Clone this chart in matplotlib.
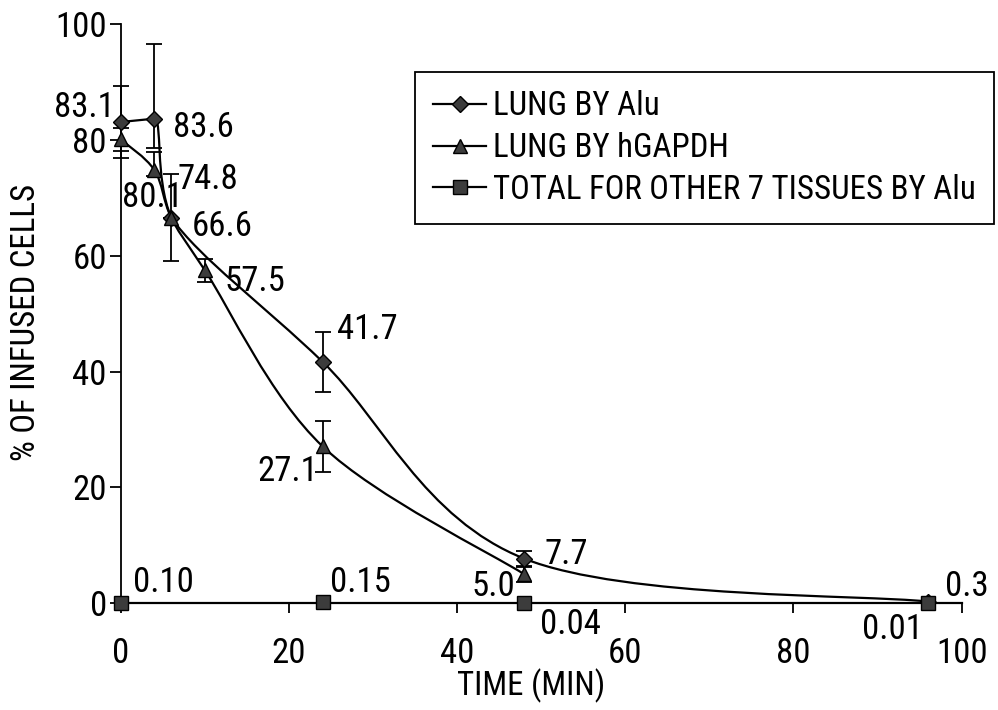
import numpy as np
import matplotlib
matplotlib.use("Agg")
import matplotlib.pyplot as plt
import matplotlib.font_manager as fm
from matplotlib.path import Path
from matplotlib.patches import PathPatch
from matplotlib.lines import Line2D

# lung by Alu
time_alu = [0, 4, 6, 24, 48, 96]
lung_alu = [83.1, 83.6, 66.6, 41.7, 7.7, 0.3]
alu_err_lo = [6.2, 5.0, 0.0, 5.2, 1.4, 0.0]
alu_err_hi = [6.2, 12.9, 0.0, 5.2, 1.4, 0.0]

# lung by hGAPDH
time_gapdh = [0, 4, 6, 10, 24, 48]
lung_gapdh = [80.1, 74.8, 66.6, 57.5, 27.1, 5.0]
gapdh_err_lo = [2.0, 1.0, 7.5, 2.0, 4.4, 1.4]
gapdh_err_hi = [2.0, 3.2, 7.5, 2.0, 4.4, 1.4]

# total for the other 7 tissues by Alu
time_other = [0, 24, 48, 96]
total_other = [0.10, 0.15, 0.04, 0.01]

labels_alu = ["83.1", "83.6", "66.6", "41.7", "7.7", "0.3"]
labels_gapdh = ["80.1", "74.8", None, "57.5", "27.1", "5.0"]
labels_other = ["0.10", "0.15", "0.04", "0.01"]

series_names = ["LUNG BY Alu", "LUNG BY hGAPDH", "TOTAL FOR OTHER 7 TISSUES BY Alu"]

# label offsets in points, (dx, dy, ha)
off_alu = [(-4, 10.5, 'right'), (13.5, -6.3, 'left'), (14.8, -6.2, 'left'),
           (10.2, 23.2, 'left'), (14.8, 3.2, 'left'), (12.2, 11, 'left')]
off_gapdh = [(1, -42, 'left'), (16.3, -6.8, 'left'), None,
             (14.5, -7.8, 'left'), (-3.2, -18.3, 'right'), (-6.8, -8.6, 'right')]
off_other = [(8.9, 14.7, 'left'), (5.4, 14.5, 'left'), (11.2, -15.3, 'left'),
             (-3.4, -18.8, 'right')]

# look for a narrow sans, the reference uses a condensed face
have = {f.name for f in fm.fontManager.ttflist}
family = None
stretch = 'normal'
for nm in ['Liberation Sans Narrow', 'Arial Narrow', 'Roboto Condensed',
           'Open Sans Condensed', 'Nimbus Sans Narrow']:
    if nm in have:
        family = nm
        break
if family is None:
    if any(f.name == 'DejaVu Sans' and f.stretch == 'condensed' for f in fm.fontManager.ttflist):
        family = 'DejaVu Sans'
        stretch = 'condensed'
    else:
        family = 'Liberation Sans'
plt.rcParams['font.family'] = [family, 'DejaVu Sans']
plt.rcParams['font.stretch'] = stretch

FILL = '#3c3c3c'
LW = 1.6


def smooth_path(xs, ys):
    # catmull-rom style smoothing, flat tangent at local peaks
    p = np.column_stack([xs, ys]).astype(float)
    n = len(p)
    tang = np.zeros_like(p)
    for k in range(n):
        a = p[max(k - 1, 0)]
        b = p[min(k + 1, n - 1)]
        tang[k] = (b - a) / 2
        if 0 < k < n - 1 and (p[k, 1] - a[1]) * (b[1] - p[k, 1]) <= 0:
            tang[k, 1] = 0
    verts = [tuple(p[0])]
    codes = [Path.MOVETO]
    for k in range(n - 1):
        c1 = p[k] + tang[k] / 3
        c2 = p[k + 1] - tang[k + 1] / 3
        c1[0] = min(max(c1[0], p[k, 0]), p[k + 1, 0])
        c2[0] = min(max(c2[0], p[k, 0]), p[k + 1, 0])
        verts += [tuple(c1), tuple(c2), tuple(p[k + 1])]
        codes += [Path.CURVE4] * 3
    return Path(verts, codes)


fig = plt.figure(figsize=(9.98, 7.10), dpi=100)

# size the text so the long legend entry spans about 480 px like the reference
rend = fig.canvas.get_renderer()
w0, _, _ = rend.get_text_width_height_descent(
    series_names[2], fm.FontProperties(family=[family], stretch=stretch, size=20), ismath=False)
FS = min(27.0, 20 * 482.0 / w0)
FS_LAB = FS * 1.06

ax = fig.add_axes([0.121, 0.1503, 0.8426, 0.8157])

ax.add_patch(PathPatch(smooth_path(time_alu, lung_alu), fill=False, lw=LW, ec='k', zorder=2))
ax.add_patch(PathPatch(smooth_path(time_gapdh, lung_gapdh), fill=False, lw=LW, ec='k', zorder=2))
ax.plot([0, 100], [0, 0], color='k', lw=LW, zorder=2, clip_on=False)

ax.errorbar(time_alu, lung_alu, yerr=[alu_err_lo, alu_err_hi], fmt='none',
            ecolor='k', elinewidth=1.3, capsize=6, capthick=1.3, zorder=3, clip_on=False)
ax.errorbar(time_gapdh, lung_gapdh, yerr=[gapdh_err_lo, gapdh_err_hi], fmt='none',
            ecolor='k', elinewidth=1.3, capsize=6, capthick=1.3, zorder=3, clip_on=False)

ax.plot(time_alu, lung_alu, ls='none', marker='D', ms=8.5, mfc=FILL, mec='k', mew=1,
        zorder=4, clip_on=False)
ax.plot(time_gapdh, lung_gapdh, ls='none', marker='^', ms=10.5, mfc=FILL, mec='k', mew=1,
        zorder=4, clip_on=False)
ax.plot(time_other, total_other, ls='none', marker='s', ms=9.5, mfc=FILL, mec='k', mew=1,
        zorder=4, clip_on=False)


def put_labels(xs, ys, texts, offs):
    for x, y, t, o in zip(xs, ys, texts, offs):
        if t is None:
            continue
        ax.annotate(t, (x, y), xytext=(o[0], o[1]), textcoords='offset points',
                    ha=o[2], va='center', fontsize=FS_LAB)


put_labels(time_alu, lung_alu, labels_alu, off_alu)
put_labels(time_gapdh, lung_gapdh, labels_gapdh, off_gapdh)
put_labels(time_other, total_other, labels_other, off_other)

ax.set_xlim(0, 100)
ax.set_ylim(0, 100)
ax.set_xticks([0, 20, 40, 60, 80, 100])
ax.set_yticks([0, 20, 40, 60, 80, 100])
ax.spines['top'].set_visible(False)
ax.spines['right'].set_visible(False)
ax.spines['left'].set_linewidth(1.3)
ax.spines['bottom'].set_linewidth(1.3)
ax.tick_params(axis='both', labelsize=FS_LAB, width=1.3, direction='out')
ax.tick_params(axis='x', length=7, pad=17)
ax.tick_params(axis='y', length=8, pad=2)

ax.set_xlabel("TIME (MIN)", fontsize=FS)
ax.xaxis.set_label_coords(0.488, -0.112)
ax.set_ylabel("% OF INFUSED CELLS", fontsize=FS)
ax.yaxis.set_label_coords(-0.094, 0.485)

handles = [
    Line2D([], [], color='k', lw=LW, marker='D', ms=8.5, mfc=FILL, mec='k'),
    Line2D([], [], color='k', lw=LW, marker='^', ms=10.5, mfc=FILL, mec='k'),
    Line2D([], [], color='k', lw=LW, marker='s', ms=9.5, mfc=FILL, mec='k'),
]
em = FS * 100 / 72.0
leg = ax.legend(handles, series_names, loc='upper left', bbox_to_anchor=(0.35, 0.917),
                borderaxespad=0, fontsize=FS, frameon=True, fancybox=False,
                handlelength=53 / em, handletextpad=7 / em, labelspacing=0.3,
                borderpad=0.55, framealpha=1)
leg.get_frame().set_edgecolor('k')
leg.get_frame().set_linewidth(1.3)

fig.savefig("out.png", dpi=100)
